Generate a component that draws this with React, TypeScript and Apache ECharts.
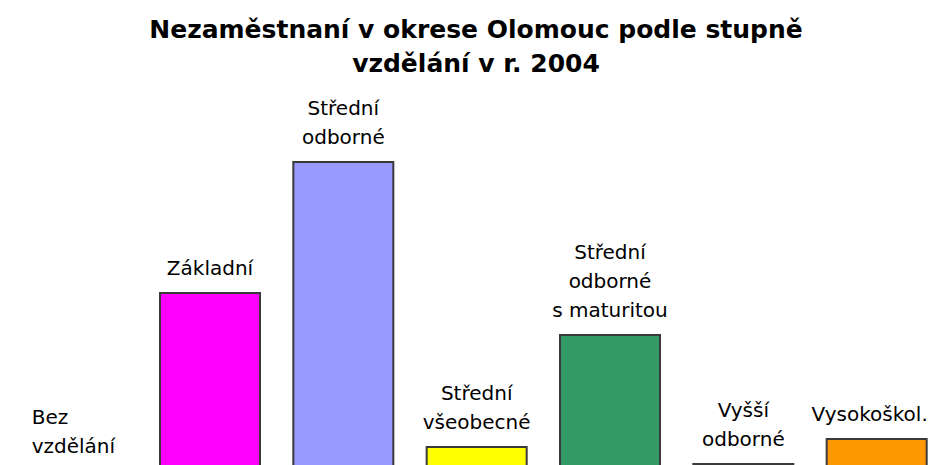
import React, { useEffect, useRef } from "react";
import * as echarts from "echarts";

const titleLines = ["Nezaměstnaní v okrese Olomouc podle stupně", "vzdělání v r. 2004"];
const categories = [
  "Bez vzdělání",
  "Základní",
  "Střední odborné",
  "Střední všeobecné",
  "Střední odborné s maturitou",
  "Vyšší odborné",
  "Vysokoškolské",
];
const labelTexts = [
  "Bez\nvzdělání",
  "Základní",
  "Střední\nodborné",
  "Střední\nvšeobecné",
  "Střední\nodborné\ns maturitou",
  "Vyšší\nodborné",
  "Vysokoškol.",
];
const values = [200, 3760, 6380, 680, 2920, 340, 840];
const colors = ["#000080", "#FF00FF", "#9999FF", "#FFFF00", "#339966", "#FFFFFF", "#FF9900"];

export default function App() {
  const ref = useRef<HTMLDivElement>(null);
  useEffect(() => {
    if (!ref.current) return;
    const chart = echarts.init(ref.current, null, { renderer: "svg" });
    const font = "DejaVu Sans";
    chart.setOption({
      animation: false,
      backgroundColor: "#FFFFFF",
      title: {
        text: titleLines.join("\n"),
        left: 471,
        textAlign: "center",
        top: 7,
        textStyle: { fontFamily: font, fontWeight: "bold", fontSize: 25, lineHeight: 34, color: "#000" },
      },
      grid: { left: 10, width: 933.33, top: 80, bottom: 20 },
      xAxis: { type: "category", data: categories, show: false },
      yAxis: { type: "value", min: 0, max: 8000, show: false },
      series: [
        {
          type: "bar",
          barWidth: 102,
          data: values.map((v, i) => ({
            value: v,
            itemStyle: { color: colors[i], borderColor: "#3a3a3a", borderWidth: 2 },
            label:
              i === 0
                ? { align: "left", offset: [-45, 0] }
                : i === 6
                ? { offset: [-7, 0] }
                : {},
          })),
          label: {
            show: true,
            position: "top",
            distance: 10,
            formatter: (p: any) => labelTexts[p.dataIndex],
            fontFamily: font,
            fontSize: 20,
            lineHeight: 29,
            color: "#000",
          },
        },
      ],
    });
    return () => chart.dispose();
  }, []);
  return <div ref={ref} style={{ position: "fixed", left: 0, top: 0, width: 960, height: 500 }} />;
}
